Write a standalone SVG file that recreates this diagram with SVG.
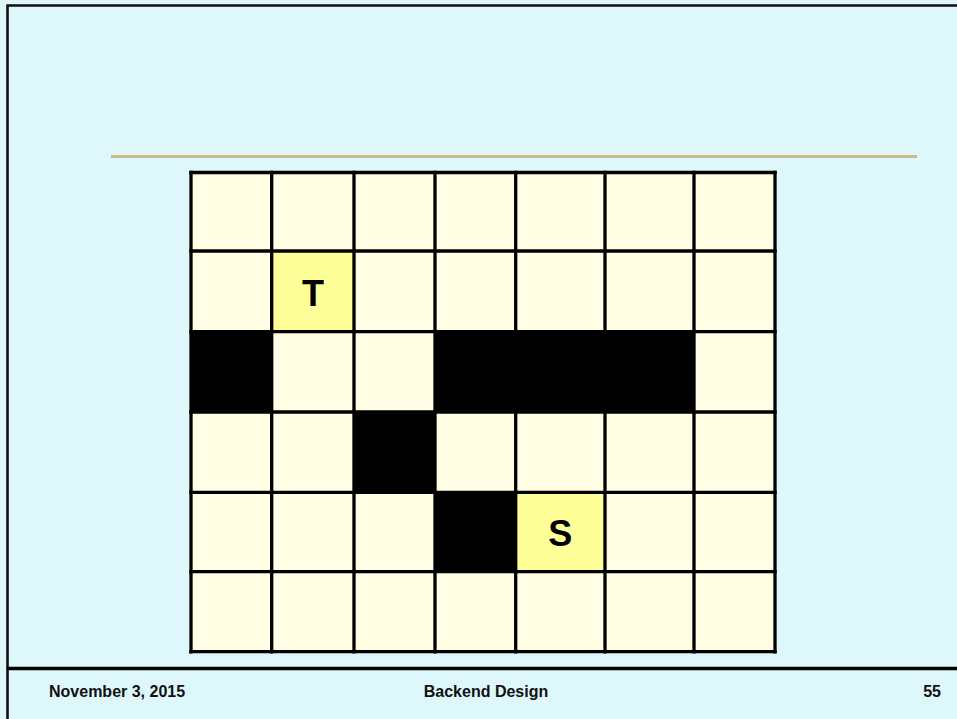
<svg xmlns="http://www.w3.org/2000/svg" width="957" height="719" viewBox="0 0 957 719">
<style>
.bg{fill:#DDF7FB}
.c{fill:#FFFDE3}
.h{fill:#FFFF99}
.k{fill:#000}
.gl{stroke:#000;stroke-width:3.3;fill:none}
.lbl{font-family:"Liberation Sans",Arial,sans-serif;font-weight:bold;font-size:36px;fill:#000;text-anchor:middle}
.ft{font-family:"Liberation Sans",Arial,sans-serif;font-weight:bold;font-size:16px;fill:#111}
</style>
<rect class="bg" x="0" y="0" width="957" height="719"/>
<path d="M7.5 719 V5.5 H957" stroke="#111" stroke-width="2.6" fill="none"/>
<line x1="111" y1="156.5" x2="917" y2="156.5" stroke="#C9BC88" stroke-width="3"/>
<g id="grid">
<g id="cells">
<rect class="c" x="191" y="172.5" width="584" height="479.2"/>
<g id="cell-T"><rect class="h" x="271.7" y="251" width="82.3" height="80.7"/><text class="lbl" x="313" y="306">T</text></g>
<g id="cell-S"><rect class="h" x="515.7" y="492.3" width="89.3" height="79.4"/><text class="lbl" x="560.3" y="546">S</text></g>
<g id="wall-1"><rect class="k" x="191" y="331.7" width="80.7" height="80.3"/></g>
<g id="wall-2"><rect class="k" x="435" y="331.7" width="259" height="80.3"/></g>
<g id="wall-3"><rect class="k" x="354" y="412" width="81" height="80.3"/></g>
<g id="wall-4"><rect class="k" x="435" y="492.3" width="80.7" height="79.4"/></g>
</g>
<g id="lines" class="gl">
<path d="M191 170.8 V653.4 M271.7 170.8 V653.4 M354 170.8 V653.4 M435 170.8 V653.4 M515.7 170.8 V653.4 M605 170.8 V653.4 M694 170.8 V653.4 M775 170.8 V653.4"/>
<path d="M189.3 172.5 H776.7 M189.3 251 H776.7 M189.3 331.7 H776.7 M189.3 412 H776.7 M189.3 492.3 H776.7 M189.3 571.7 H776.7 M189.3 651.7 H776.7"/>
</g>
</g>
<line x1="7" y1="668.5" x2="957" y2="668.5" stroke="#000" stroke-width="3.3"/>
<text class="ft" x="49" y="697">November 3, 2015</text>
<text class="ft" x="486" y="697" text-anchor="middle">Backend Design</text>
<text class="ft" x="941" y="697" text-anchor="end">55</text>
</svg>
